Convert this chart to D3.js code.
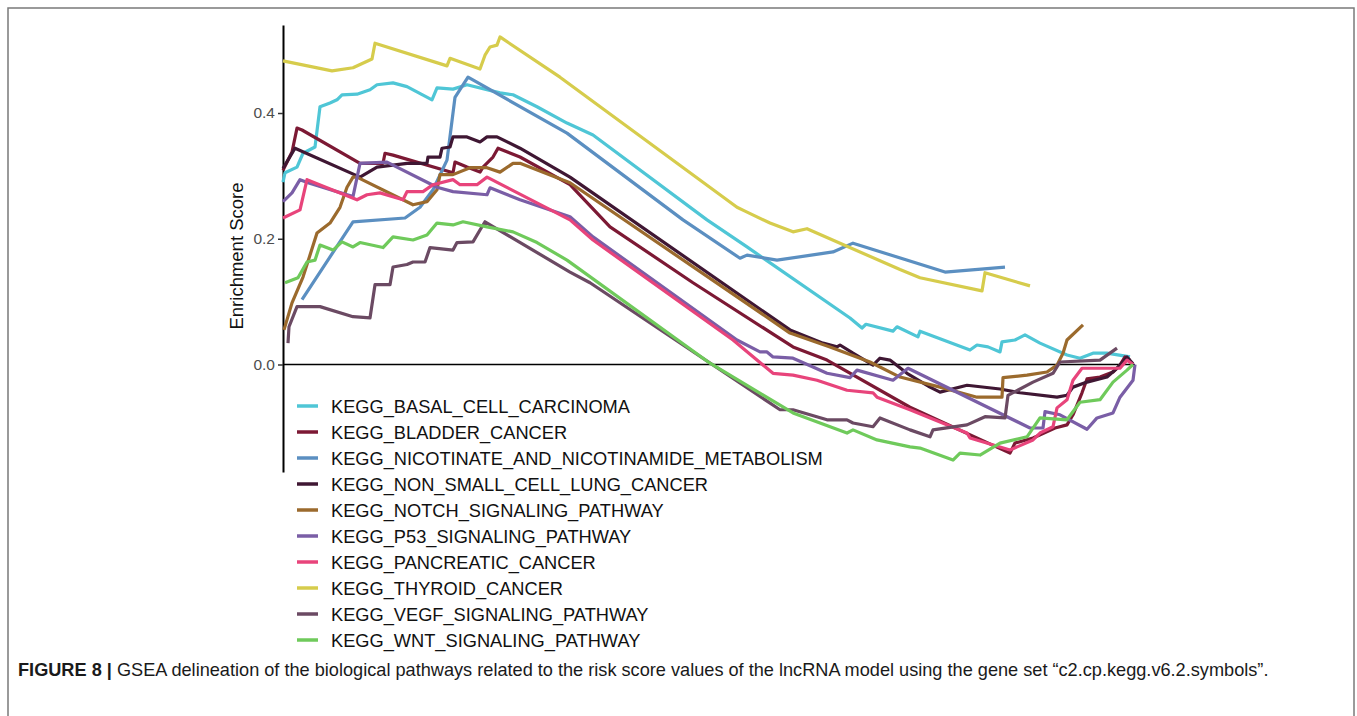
<!DOCTYPE html>
<html>
<head>
<meta charset="utf-8">
<script src="https://cdn.jsdelivr.net/npm/d3@7"></script>
<style>
  html, body { margin: 0; padding: 0; background: #fff; }
  svg { display: block; font-family: "Liberation Sans", Arial, Helvetica, sans-serif; }
</style>
</head>
<body>
<svg id="chart" width="1357" height="716"></svg>
<script>
// Running enrichment score of each KEGG gene set along the ranked gene list.
// Each point is [position in ranked list, enrichment score].
const pathways = [
  "KEGG_BASAL_CELL_CARCINOMA",
  "KEGG_BLADDER_CANCER",
  "KEGG_NICOTINATE_AND_NICOTINAMIDE_METABOLISM",
  "KEGG_NON_SMALL_CELL_LUNG_CANCER",
  "KEGG_NOTCH_SIGNALING_PATHWAY",
  "KEGG_P53_SIGNALING_PATHWAY",
  "KEGG_PANCREATIC_CANCER",
  "KEGG_THYROID_CANCER",
  "KEGG_VEGF_SIGNALING_PATHWAY",
  "KEGG_WNT_SIGNALING_PATHWAY"
];

const pathwayColors = [
  "#4fc6d6", "#7c1934", "#5b8fc1", "#3f1733", "#9b6a2d",
  "#7a5ea6", "#e8447b", "#d6cc4c", "#6b4a63", "#6fca5b"
];

const basalCellCarcinoma = [
  [0,0.290],[2,0.305],[14,0.314],[20,0.336],[32,0.346],[37,0.410],[47,0.416],[54,0.421],
  [59,0.429],[74,0.430],[87,0.437],[94,0.445],[110,0.448],[124,0.442],[149,0.421],[154,0.440],
  [170,0.438],[184,0.445],[217,0.432],[230,0.429],[254,0.410],[284,0.384],[310,0.365],
  [424,0.230],[464,0.187],[567,0.074],[579,0.058],[583,0.064],[610,0.053],[614,0.060],
  [635,0.044],[637,0.053],[687,0.023],[694,0.031],[705,0.028],[717,0.020],[719,0.036],
  [732,0.039],[742,0.047],[757,0.034],[784,0.015],[797,0.010],[810,0.018],[824,0.018],[847,0.012]
];

const bladderCancer = [
  [0,0.309],[9,0.338],[14,0.376],[19,0.373],[77,0.320],[100,0.320],[102,0.336],[110,0.333],
  [170,0.305],[172,0.322],[184,0.314],[197,0.306],[200,0.314],[210,0.330],[215,0.344],
  [237,0.330],[287,0.286],[327,0.219],[410,0.130],[510,0.028],[544,0.007],[627,-0.068],
  [727,-0.141],[732,-0.125],[750,-0.117],[772,-0.101],[784,-0.096],[790,-0.080],[799,-0.045],
  [804,-0.023],[817,-0.020],[830,-0.012],[837,-0.001],[842,0.012],[847,0.007]
];

const nicotinateMetabolism = [
  [19,0.103],[70,0.227],[122,0.233],[137,0.250],[150,0.278],[164,0.325],[172,0.425],
  [185,0.457],[284,0.368],[400,0.230],[457,0.169],[464,0.174],[494,0.166],[550,0.179],
  [570,0.193],[662,0.147],[722,0.155]
];

const nonSmallCellLungCancer = [
  [0,0.312],[12,0.344],[77,0.298],[94,0.314],[124,0.320],[144,0.320],[145,0.330],[157,0.330],
  [159,0.344],[167,0.346],[170,0.362],[184,0.362],[197,0.354],[204,0.362],[214,0.362],
  [237,0.344],[287,0.298],[507,0.055],[540,0.034],[554,0.028],[557,0.031],[570,0.018],
  [590,-0.001],[597,0.010],[607,0.007],[624,-0.014],[647,-0.036],[657,-0.044],[684,-0.033],
  [717,-0.039],[737,-0.045],[774,-0.052],[784,-0.049],[790,-0.036],[804,-0.028],[824,-0.020],
  [834,-0.006],[844,0.012],[850,0.001]
];

const notchSignaling = [
  [1,0.055],[9,0.098],[20,0.139],[34,0.209],[47,0.225],[57,0.250],[64,0.282],[70,0.298],
  [74,0.298],[130,0.254],[144,0.259],[154,0.278],[157,0.302],[170,0.302],[187,0.313],
  [204,0.313],[217,0.306],[230,0.320],[237,0.320],[287,0.289],[507,0.050],[547,0.028],
  [587,0.004],[617,-0.020],[657,-0.036],[694,-0.052],[719,-0.052],[720,-0.021],[744,-0.017],
  [764,-0.012],[774,-0.001],[780,0.018],[784,0.039],[800,0.063]
];

const p53Signaling = [
  [0,0.259],[9,0.273],[17,0.294],[25,0.289],[70,0.267],[77,0.320],[104,0.322],[154,0.282],
  [170,0.275],[204,0.270],[207,0.281],[237,0.262],[287,0.235],[310,0.203],[454,0.039],
  [477,0.020],[484,0.020],[490,0.012],[510,0.010],[530,-0.004],[544,-0.014],[567,-0.021],
  [574,-0.009],[610,-0.025],[625,-0.006],[747,-0.101],[760,-0.101],[762,-0.075],[777,-0.080],
  [804,-0.103],[814,-0.085],[830,-0.077],[837,-0.052],[850,-0.025],[852,0.000]
];

const pancreaticCancer = [
  [0,0.233],[17,0.246],[24,0.294],[74,0.262],[84,0.270],[97,0.273],[120,0.262],[124,0.275],
  [140,0.275],[150,0.286],[170,0.294],[177,0.286],[194,0.286],[204,0.298],[287,0.230],
  [310,0.198],[450,0.039],[490,-0.014],[510,-0.017],[534,-0.025],[564,-0.041],[590,-0.045],
  [594,-0.052],[627,-0.072],[684,-0.109],[687,-0.117],[727,-0.136],[750,-0.120],[757,-0.109],
  [770,-0.099],[774,-0.069],[784,-0.056],[790,-0.025],[799,-0.006],[817,-0.006],[837,-0.006],
  [844,0.007],[850,0.000]
];

const thyroidCancer = [
  [0,0.483],[49,0.467],[70,0.472],[89,0.486],[92,0.511],[164,0.475],[167,0.487],[197,0.470],
  [202,0.492],[207,0.505],[214,0.508],[217,0.521],[277,0.457],[454,0.250],[462,0.244],
  [487,0.225],[510,0.211],[524,0.216],[617,0.151],[637,0.138],[699,0.117],[702,0.146],[747,0.125]
];

const vegfSignaling = [
  [5,0.034],[6,0.060],[14,0.092],[37,0.092],[70,0.076],[87,0.074],[92,0.127],[107,0.127],
  [110,0.155],[124,0.159],[130,0.163],[142,0.163],[147,0.186],[170,0.182],[174,0.194],
  [190,0.195],[197,0.214],[202,0.227],[287,0.147],[307,0.130],[497,-0.072],[510,-0.072],
  [544,-0.088],[564,-0.088],[570,-0.093],[590,-0.099],[597,-0.085],[627,-0.104],[647,-0.115],
  [650,-0.104],[684,-0.096],[702,-0.083],[722,-0.085],[725,-0.049],[750,-0.028],[770,-0.014],
  [777,0.004],[817,0.007],[834,0.026]
];

const wntSignaling = [
  [2,0.130],[15,0.138],[24,0.163],[32,0.166],[37,0.190],[50,0.182],[59,0.195],[70,0.187],
  [77,0.194],[100,0.186],[110,0.203],[130,0.198],[144,0.206],[154,0.225],[170,0.222],
  [180,0.227],[204,0.219],[230,0.211],[254,0.194],[284,0.166],[427,0.002],[510,-0.077],
  [564,-0.109],[570,-0.104],[594,-0.120],[627,-0.131],[637,-0.133],[670,-0.152],[677,-0.141],
  [697,-0.144],[717,-0.125],[744,-0.115],[757,-0.085],[784,-0.088],[797,-0.060],[817,-0.056],
  [830,-0.028],[844,-0.009],[850,0.000]
];

const seriesValues = [
  basalCellCarcinoma, bladderCancer, nicotinateMetabolism, nonSmallCellLungCancer,
  notchSignaling, p53Signaling, pancreaticCancer, thyroidCancer, vegfSignaling, wntSignaling
];

const yTickValues = [0.0, 0.2, 0.4];
const yTitle = "Enrichment Score";
const captionLead = "FIGURE 8 |";
const captionBody = " GSEA delineation of the biological pathways related to the risk score values of the lncRNA model using the gene set \u201cc2.cp.kegg.v6.2.symbols\u201d.";

const svg = d3.select("#chart");

// figure frame
svg.append("rect")
  .attr("x", 8).attr("y", 8).attr("width", 1346).attr("height", 760)
  .attr("fill", "none").attr("stroke", "#7a7a7a").attr("stroke-width", 1.5);

const x = d3.scaleLinear().domain([0, 852]).range([283, 1135]);
const y = d3.scaleLinear().domain([-0.171, 0.540]).range([472, 25]);

// zero reference line
svg.append("line")
  .attr("x1", x(0)).attr("x2", x(852))
  .attr("y1", y(0)).attr("y2", y(0))
  .attr("stroke", "#000").attr("stroke-width", 1.6);

// y axis
const yAxis = d3.axisLeft(y)
  .tickValues(yTickValues)
  .tickFormat(d3.format(".1f"))
  .tickSize(5)
  .tickSizeOuter(0);

const gy = svg.append("g").attr("transform", `translate(${x(0)},0)`).call(yAxis);
gy.select(".domain").attr("stroke", "#000").attr("stroke-width", 2);
gy.selectAll(".tick line").attr("stroke", "#333").attr("stroke-width", 1.5);
gy.selectAll(".tick text")
  .attr("fill", "#4d4d4d")
  .attr("font-size", 15.5)
  .attr("x", -8)
  .style("font-family", "'Liberation Sans', Arial, sans-serif");

svg.append("text")
  .attr("transform", `translate(243,256) rotate(-90)`)
  .attr("text-anchor", "middle")
  .attr("font-size", 18.5)
  .attr("fill", "#111")
  .text(yTitle);

// enrichment curves
const line = d3.line().x(d => x(d[0])).y(d => y(d[1]));

svg.append("g").selectAll("path")
  .data(seriesValues)
  .join("path")
  .attr("d", line)
  .attr("fill", "none")
  .attr("stroke", (d, i) => pathwayColors[i])
  .attr("stroke-width", 3.2)
  .attr("stroke-linejoin", "round")
  .attr("stroke-linecap", "butt");

// legend
const legend = svg.append("g");
const rows = legend.selectAll("g")
  .data(pathways)
  .join("g")
  .attr("transform", (d, i) => `translate(0,${406 + i * 26})`);

rows.append("line")
  .attr("x1", 297).attr("x2", 318)
  .attr("y1", 0).attr("y2", 0)
  .attr("stroke", (d, i) => pathwayColors[i])
  .attr("stroke-width", 3.5);

const labels = rows.append("text")
  .attr("x", 331).attr("y", 0)
  .attr("dy", "0.36em")
  .attr("font-size", 17)
  .attr("fill", "#111")
  .text(d => d);

// size legend text so the longest label spans its measured width
const longest = labels.filter(d => d === "KEGG_NICOTINATE_AND_NICOTINAMIDE_METABOLISM").node();
const lw = longest.getComputedTextLength();
labels.attr("font-size", 17 * 492 / lw);

// caption
const cap = svg.append("text")
  .attr("x", 18).attr("y", 676)
  .attr("font-size", 16)
  .attr("fill", "#1a1a1a");
cap.append("tspan").attr("font-weight", "bold").text(captionLead);
cap.append("tspan").text(captionBody);
const cw = cap.node().getComputedTextLength();
cap.attr("font-size", 16 * 1252 / cw);
</script>
</body>
</html>
